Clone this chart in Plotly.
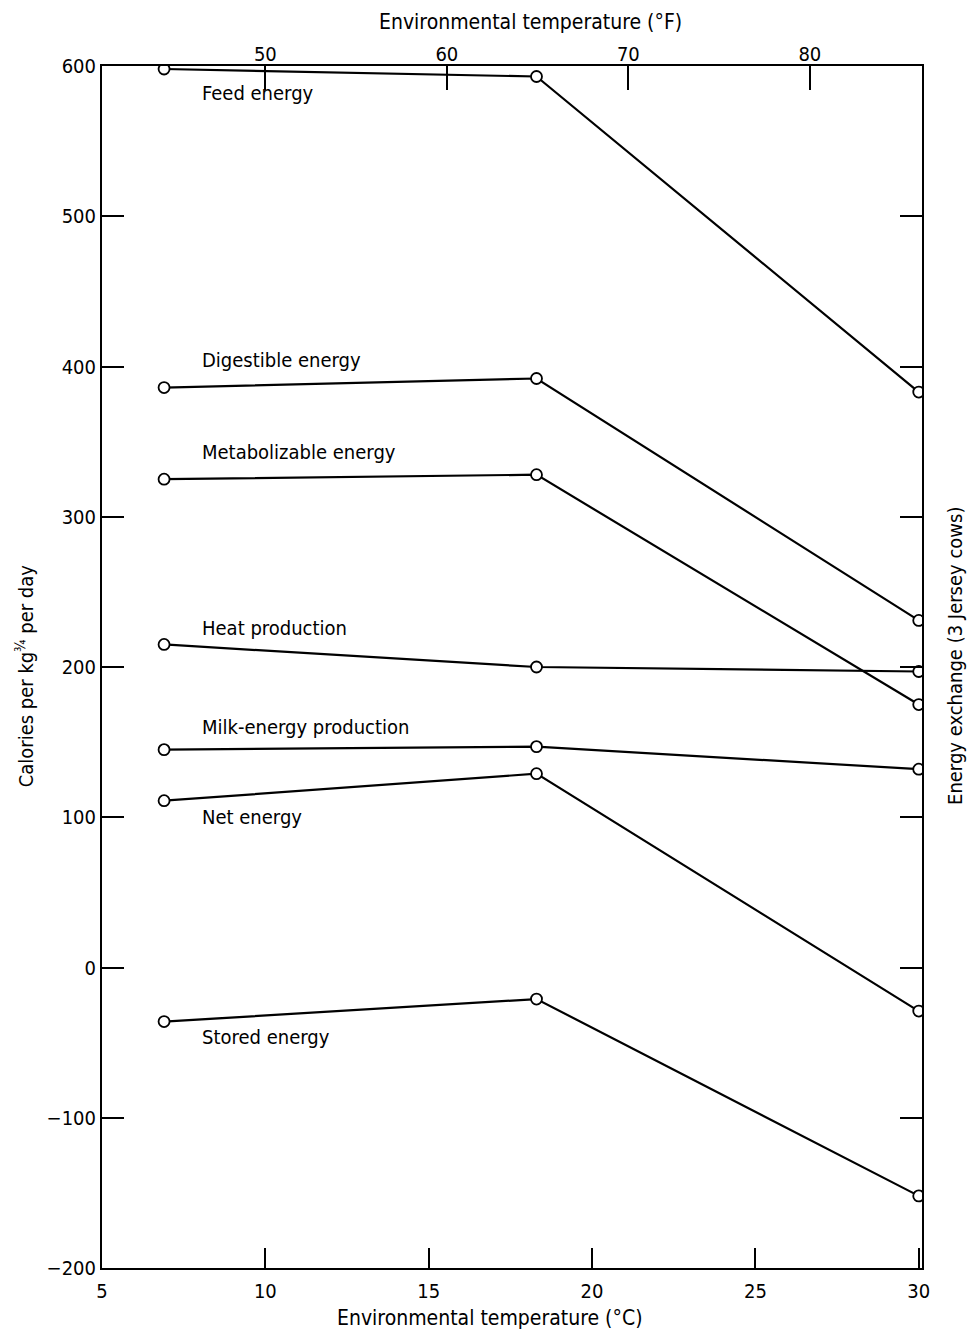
import plotly.graph_objects as go

# ---- data ----
temps_c = [6.9, 18.3, 30.0]
series_names = ["Feed energy", "Digestible energy", "Metabolizable energy",
                "Heat production", "Milk-energy production", "Net energy", "Stored energy"]
feed_energy = [598, 593, 383]
digestible_energy = [386, 392, 231]
metabolizable_energy = [325, 328, 175]
heat_production = [215, 200, 197]
milk_energy = [145, 147, 132]
net_energy = [111, 129, -29]
stored_energy = [-36, -21, -152]
y_ticks = [-200, -100, 0, 100, 200, 300, 400, 500, 600]
x_ticks_c = [5, 10, 15, 20, 25, 30]
x_ticks_f = [50, 60, 70, 80]

series_values = [feed_energy, digestible_energy, metabolizable_energy,
                 heat_production, milk_energy, net_energy, stored_energy]

# label placement (offset from first point, in data units)
label_x = 8.0
label_dy = [-16, 18, 18, 11, 15, -11, -10]

FONT = "DejaVu Sans Condensed, Liberation Sans Narrow, sans-serif"
X_MAX = 30.1

fig = go.Figure()
for name, vals in zip(series_names, series_values):
    fig.add_trace(go.Scatter(
        x=temps_c, y=vals, mode="lines+markers", name=name,
        line=dict(color="black", width=2.2),
        marker=dict(symbol="circle", size=11, color="white",
                    line=dict(color="black", width=1.8)),
        showlegend=False, hoverinfo="skip"))

# invisible trace to activate the top Fahrenheit axis
fig.add_trace(go.Scatter(x=[5 * 1.8 + 32, X_MAX * 1.8 + 32], y=[600, 600],
                         xaxis="x2", mode="lines", line=dict(width=0),
                         opacity=0, showlegend=False, hoverinfo="skip"))

annotations = []
for name, vals, dy in zip(series_names, series_values, label_dy):
    annotations.append(dict(x=label_x, y=vals[0] + dy, xref="x", yref="y",
                            text=name, showarrow=False, xanchor="left",
                            yanchor="middle", font=dict(size=20, color="black", family=FONT)))

annotations += [
    dict(x=0.522, y=1.037, xref="paper", yref="paper", xanchor="center", yanchor="middle",
         text="Environmental temperature (°F)", showarrow=False,
         font=dict(size=21, color="black", family=FONT)),
    dict(x=0.473, y=-0.042, xref="paper", yref="paper", xanchor="center", yanchor="middle",
         text="Environmental temperature (°C)", showarrow=False,
         font=dict(size=21, color="black", family=FONT)),
    dict(x=-0.094, y=0.493, xref="paper", yref="paper", xanchor="center", yanchor="middle",
         text="Calories per kg<sup>¾</sup> per day", showarrow=False, textangle=-90,
         font=dict(size=20, color="black", family=FONT)),
    dict(x=1.040, y=0.509, xref="paper", yref="paper", xanchor="center", yanchor="middle",
         text="Energy exchange (3 Jersey cows)", showarrow=False, textangle=-90,
         font=dict(size=20, color="black", family=FONT)),
]

fig.update_layout(
    width=974, height=1336,
    margin=dict(l=102, r=52, t=66, b=68),
    paper_bgcolor="white", plot_bgcolor="white",
    font=dict(family=FONT, color="black", size=20),
    xaxis=dict(range=[5, X_MAX], tickvals=x_ticks_c, ticks="inside", ticklen=20,
               tickwidth=2, tickcolor="black", showline=True, linecolor="black",
               linewidth=2, mirror=True, showgrid=False, zeroline=False,
               ticklabelstandoff=4, tickfont=dict(size=20, family=FONT)),
    xaxis2=dict(range=[5 * 1.8 + 32, X_MAX * 1.8 + 32], overlaying="x", side="top",
                anchor="y", tickvals=x_ticks_f, ticks="inside", ticklen=24,
                tickwidth=2, tickcolor="black", showline=False, showgrid=False,
                zeroline=False, tickfont=dict(size=20, family=FONT)),
    yaxis=dict(range=[-200, 600], tickvals=y_ticks, ticks="inside", ticklen=22,
               tickwidth=2, tickcolor="black", showline=True, linecolor="black",
               linewidth=2, mirror="ticks", showgrid=False, zeroline=False,
               tickfont=dict(size=20, family=FONT)),
    annotations=annotations,
)

fig.write_html("out.html")
